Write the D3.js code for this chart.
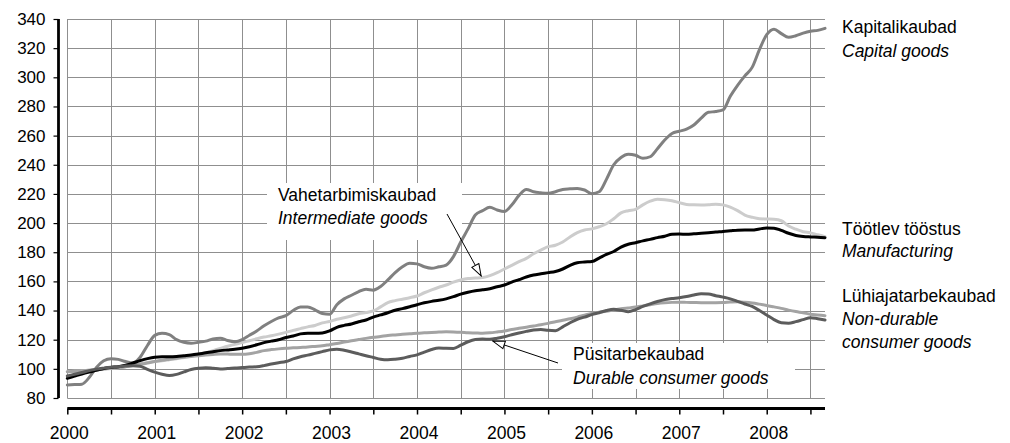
<!DOCTYPE html>
<html>
<head>
<meta charset="utf-8">
<script src="https://cdn.jsdelivr.net/npm/d3@7"></script>
<style>
  html, body { margin: 0; padding: 0; background: #fff; }
  svg { display: block; font-family: "Liberation Sans", Arial, sans-serif; }
</style>
</head>
<body>
<svg id="chart" width="1010" height="443"></svg>
<script>
// ---- data (monthly index, 0 = Jan 2000 ... 104 = Sep 2008) ----
const yearLabels = ["2000","2001","2002","2003","2004","2005","2006","2007","2008"];
const yTicks = [80,100,120,140,160,180,200,220,240,260,280,300,320,340];

const capitalGoods = [88.9,89.2,89.5,94,101,105.5,107,106.5,105,104,108,116,123,124.4,123.5,120,118.2,117.6,118.2,119,120.5,121,119.4,118.6,120,123,126,129.5,132.5,135,136.5,140,142.5,142.5,140.5,138,137.5,144,148,150.5,153,154.6,154,156.5,161,166,170,172.4,172,170,169,170,171.2,177,187,196,205.6,208.5,210.8,209,208,212.4,219,223.1,221.5,220.8,220.4,221.5,223.1,223.5,223.8,222.7,220.2,221.5,230,240,245,247.2,246.5,244.4,245.5,251,257,261.5,263,264.5,267.3,272,276,276.5,277.6,287,294.5,301,306.8,319,329.2,333,330,327.4,328.5,330.3,331.6,332.2,333.6];

const manufacturing = [93.5,95,96.5,97.8,99,100.3,101,101.5,102.5,104,105.6,107,108,108.3,108.3,108.5,109,109.5,110.2,111,111.7,112.5,113,113.5,114.2,115.2,116.5,118,119,120,121.5,122.5,124,124.4,124.4,124.6,126,128.5,129.8,130.8,132.3,133.5,135.5,137,138.5,140.2,141.3,142.6,144,145.3,146.3,147,148,149.5,151.3,152.6,153.6,154.2,155,156.3,157.5,159.5,161.2,163,164.4,165.2,166,166.8,168.5,171,172.8,173.3,173.6,176,178.5,180.5,183.5,185.5,186.5,187.8,188.8,190,191,192.4,192.5,192.3,192.6,193,193.4,193.8,194.3,194.7,195.1,195.2,195.2,196,196.6,196.5,195,193,191.5,190.8,190.5,190.3,190];

const intermediateGoods = [98,98.3,98.6,99,99.4,99.8,100.2,100.8,101.5,102.5,103.5,104.3,105,105.6,106.3,107,107.8,108.6,109.5,111,112.5,114,115.5,116.8,118,119.3,120.6,121.8,122.7,123.8,125,126.4,127.6,128.8,129.7,131.5,132.5,134,135,136.3,137.8,138.6,139.7,142.5,145.5,146.8,147.8,148.8,150,152.2,154.2,156,157.5,159.5,161,162,162.3,162.7,164,166,168.5,171,173.5,175.8,179,181.5,183.8,184.8,187,190.5,193.5,195.3,196,197.5,199.5,203,207,208.5,209.4,212.5,215,216.3,216,215.3,214,212.8,212.5,212.4,212.6,213,212.5,211,208.5,205.5,204,203,202.8,202.6,201.6,198,195.8,194.1,193.3,192,190.7];

const nonDurableGoods = [98,98.3,98.7,99.1,99.5,100,100.4,100.9,101.5,102.3,103.1,104,105,105.9,106.6,107.3,108,108.5,109,109.5,109.9,110.2,110.1,110,110,110.4,111.3,112.5,113.2,113.7,114.1,114.4,114.7,115,115.4,115.8,116.6,117.4,118.4,119.3,120.1,120.9,121.6,122.2,122.9,123.3,123.7,124,124.4,124.7,125,125.2,125.4,125.3,125.1,124.8,124.6,124.4,124.7,125.3,126,127,127.8,128.6,129.4,130.2,131.2,132.3,133.4,134.4,135.5,136.8,138,138.8,139.5,140.4,141.2,141.8,142.4,143.2,144,144.8,145.3,145.6,145.7,145.6,145.5,145.4,145.4,145.4,145.5,145.8,146,145.7,145.2,144.4,143.5,142.5,141.5,140.3,139.3,138.5,137.5,137,136.5];

const durableGoods = [95.1,96.3,97.5,98.8,99.8,100.5,101.1,101.5,101.9,102.2,101.8,99.7,97.8,96.3,95.4,96.2,97.9,99.5,100.4,100.8,100.4,99.9,100.2,100.6,100.9,101.2,101.4,102.2,103.3,104.2,105,106.8,108.3,109.4,110.6,111.8,113,113.5,112.8,111.6,110.3,109,107.8,106.6,106.2,106.6,107.3,108.5,109.6,111.5,113.3,114.3,114.1,114,116.2,118.6,120.1,120.4,120.3,121,122,123.4,124.6,125.7,126.6,127,126.4,126.2,128.8,131.6,134,135.5,137.2,138.5,140,140.9,140.2,139.2,140.6,142.8,144.6,146.2,147.5,148.2,148.8,149.6,150.7,151.6,151.3,150.2,149.2,148,146.3,144.5,142.8,140,136.9,133.8,131.6,131.3,132.4,133.8,135.1,134.4,133.5];

const seriesNames = ["intermediate","nondurable","capital","manufacturing","durable"];
const seriesValues = [intermediateGoods, nonDurableGoods, capitalGoods, manufacturing, durableGoods];
const seriesColors = ["#cccccc","#a3a3a3","#808080","#000000","#5c5c5c"];

// ---- layout ----
const svg = d3.select("#chart");
const x = d3.scaleLinear().domain([0, 104]).range([67.3, 825]);
const y = d3.scaleLinear().domain([80, 340]).range([398, 19]);

const gridColor = "#8f8f8f";
const halfYears = d3.range(0, 104, 6);

// grid
const grid = svg.append("g");
grid.selectAll("line.h").data(yTicks).join("line")
  .attr("x1", x(0)).attr("x2", x(104))
  .attr("y1", d => Math.round(y(d)) + 0.5).attr("y2", d => Math.round(y(d)) + 0.5)
  .attr("stroke", gridColor).attr("stroke-width", 1);
grid.selectAll("line.v").data(halfYears).join("line")
  .attr("x1", d => Math.round(x(d)) + 0.5).attr("x2", d => Math.round(x(d)) + 0.5)
  .attr("y1", y(340)).attr("y2", y(80))
  .attr("stroke", gridColor).attr("stroke-width", 1);

// label background boxes (white) covering grid
svg.append("rect").attr("x", 267).attr("y", 183).attr("width", 195).attr("height", 57).attr("fill", "#fff");
svg.append("rect").attr("x", 562).attr("y", 343).attr("width", 233).attr("height", 46).attr("fill", "#fff");

// y axis
const yAxis = d3.axisLeft(y).tickValues(yTicks).tickSize(5).tickPadding(8);
const gy = svg.append("g").attr("transform", "translate(58.5,0)").call(yAxis);
gy.select(".domain").attr("stroke", "#000").attr("stroke-width", 2.8).attr("d", `M0,${y(340)}V${y(80)}`);
gy.selectAll(".tick line").attr("stroke", "#000").attr("stroke-width", 1.2);
gy.selectAll(".tick text").attr("font-size", "17px").attr("fill", "#000")
  .attr("font-family", "Liberation Sans, Arial, sans-serif");

// x axis
const xAxis = d3.axisBottom(x).tickValues(halfYears).tickSize(6).tickFormat("");
const gx = svg.append("g").attr("transform", "translate(0,408.5)").call(xAxis);
gx.select(".domain").attr("stroke", "#000").attr("stroke-width", 3).attr("d", `M${x(0)},0H${x(104)}`);
gx.selectAll(".tick line").attr("stroke", "#000").attr("stroke-width", 1.5);
svg.append("g").selectAll("text").data(yearLabels).join("text")
  .attr("x", (d, i) => x(i * 12) + 2)
  .attr("y", 439)
  .attr("text-anchor", "middle")
  .attr("font-size", "17.5px")
  .text(d => d);

// lines
const line = d3.line().x((d, i) => x(i)).y(d => y(d)).curve(d3.curveMonotoneX);
svg.append("g").selectAll("path").data(seriesValues).join("path")
  .attr("d", d => line(d))
  .attr("fill", "none")
  .attr("stroke", (d, i) => seriesColors[i])
  .attr("stroke-width", 3)
  .attr("stroke-linejoin", "round")
  .attr("stroke-linecap", "round");

// arrows
const defs = svg.append("defs");
defs.append("marker").attr("id", "openArrow")
  .attr("viewBox", "0 0 14 10").attr("refX", 13).attr("refY", 5)
  .attr("markerWidth", 14).attr("markerHeight", 10)
  .attr("markerUnits", "userSpaceOnUse").attr("orient", "auto")
  .append("path").attr("d", "M1,1 L13,5 L1,9 Z")
  .attr("fill", "#fff").attr("stroke", "#000").attr("stroke-width", 1);

svg.append("line").attr("x1", 447).attr("y1", 214).attr("x2", x(56.8)).attr("y2", y(162.4) - 2)
  .attr("stroke", "#000").attr("stroke-width", 1).attr("marker-end", "url(#openArrow)");
svg.append("line").attr("x1", 558).attr("y1", 363).attr("x2", x(58.4)).attr("y2", y(120.4) + 2)
  .attr("stroke", "#000").attr("stroke-width", 1).attr("marker-end", "url(#openArrow)");

// labels
function label(xp, yp, lines) {
  const t = svg.append("text").attr("font-size", "17.5px").attr("fill", "#000");
  lines.forEach((l, k) => {
    t.append("tspan").attr("x", xp).attr("y", yp[k])
      .attr("font-style", l.italic ? "italic" : "normal").text(l.text);
  });
}
label(842, [33, 57], [{text: "Kapitalikaubad"}, {text: "Capital goods", italic: true}]);
label(842, [235, 257], [{text: "Töötlev tööstus"}, {text: "Manufacturing", italic: true}]);
label(842, [302, 325, 348], [{text: "Lühiajatarbekaubad"}, {text: "Non-durable", italic: true}, {text: "consumer goods", italic: true}]);
label(278, [201, 224], [{text: "Vahetarbimiskaubad"}, {text: "Intermediate goods", italic: true}]);
label(573, [360, 383.5], [{text: "Püsitarbekaubad"}, {text: "Durable consumer goods", italic: true}]);
</script>
</body>
</html>
